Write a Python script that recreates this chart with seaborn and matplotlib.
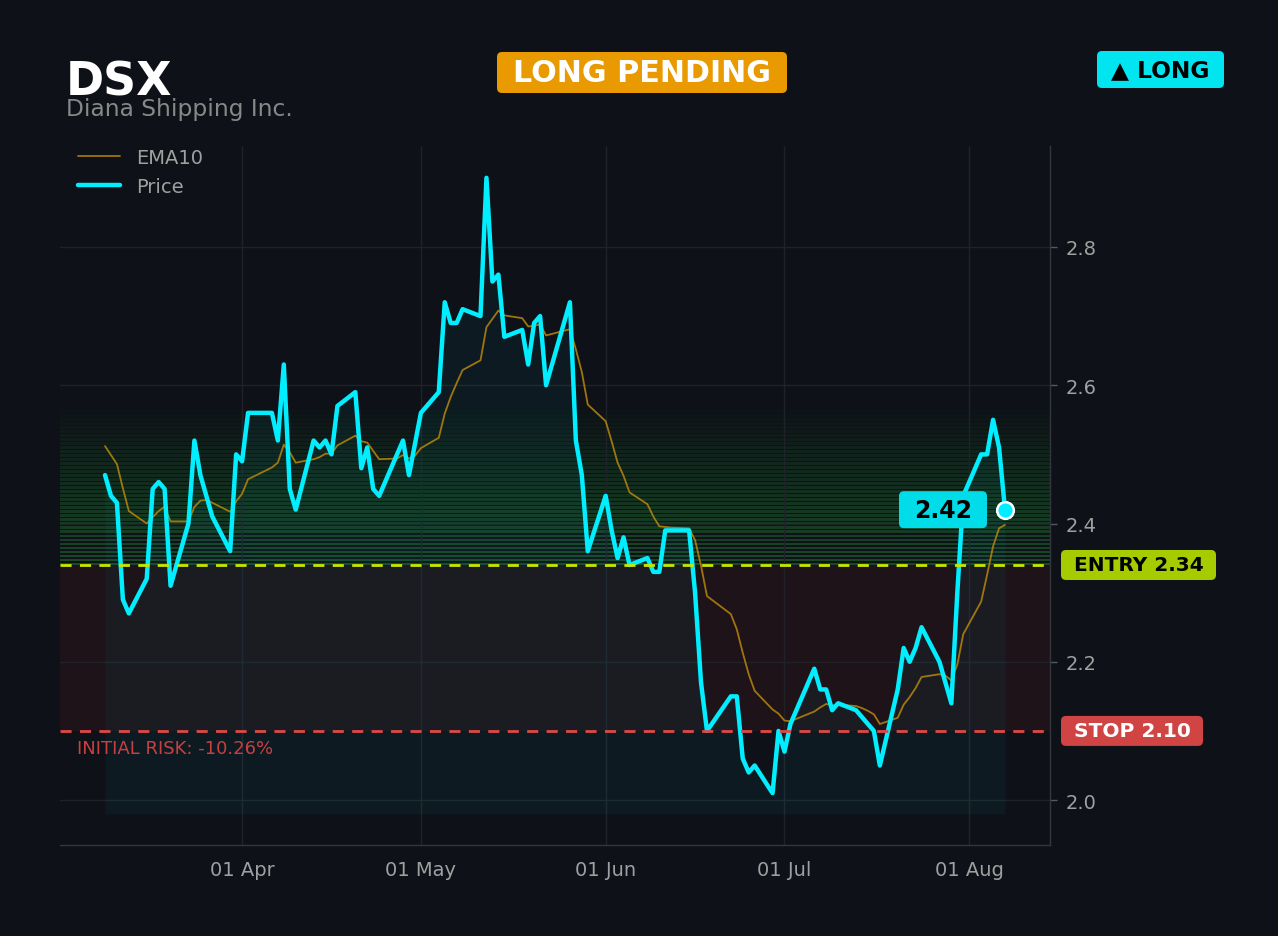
import pandas as pd
import numpy as np
import matplotlib
matplotlib.use('Agg')
import matplotlib.pyplot as plt
import matplotlib.dates as mdates
import matplotlib.transforms as mtransforms
from matplotlib.patches import FancyBboxPatch
import seaborn as sns

# trading days, Mar 9 - Aug 7 (market holidays removed)
holidays = ['2026-04-03', '2026-05-25', '2026-06-19', '2026-07-03']
dates = pd.bdate_range('2026-03-09', '2026-08-07')
dates = dates[~dates.isin(pd.to_datetime(holidays))]

price = [2.47, 2.44, 2.43, 2.29, 2.27,
         2.32, 2.45, 2.46, 2.45, 2.31,
         2.40, 2.52, 2.47, 2.44, 2.41,
         2.36, 2.50, 2.49, 2.56,
         2.56, 2.52, 2.63, 2.45, 2.42,
         2.52, 2.51, 2.52, 2.50, 2.57,
         2.59, 2.48, 2.51, 2.45, 2.44,
         2.50, 2.52, 2.47, 2.515, 2.56,
         2.59, 2.72, 2.69, 2.69, 2.71,
         2.70, 2.90, 2.75, 2.76, 2.67,
         2.68, 2.63, 2.69, 2.70, 2.60,
         2.72, 2.52, 2.47, 2.36,
         2.44, 2.39, 2.35, 2.38, 2.34,
         2.35, 2.33, 2.33, 2.39, 2.39,
         2.39, 2.30, 2.17, 2.10,
         2.15, 2.15, 2.06, 2.04, 2.05,
         2.01, 2.10, 2.07, 2.11,
         2.19, 2.16, 2.16, 2.13, 2.14,
         2.13, 2.12, 2.11, 2.10, 2.05,
         2.16, 2.22, 2.20, 2.22, 2.25,
         2.20, 2.17, 2.14, 2.30, 2.44,
         2.50, 2.50, 2.55, 2.51, 2.42]

ema10 = [2.512, 2.499, 2.486, 2.451, 2.418,
         2.400, 2.409, 2.418, 2.424, 2.403,
         2.403, 2.424, 2.433, 2.434, 2.430,
         2.417, 2.432, 2.443, 2.464,
         2.481, 2.488, 2.514, 2.503, 2.488,
         2.493, 2.496, 2.501, 2.501, 2.513,
         2.527, 2.519, 2.517, 2.505, 2.493,
         2.494, 2.499, 2.494, 2.498, 2.509,
         2.524, 2.559, 2.583, 2.603, 2.622,
         2.636, 2.684, 2.696, 2.708, 2.701,
         2.697, 2.685, 2.686, 2.688, 2.672,
         2.681, 2.652, 2.619, 2.572,
         2.548, 2.519, 2.488, 2.469, 2.445,
         2.428, 2.410, 2.396, 2.395, 2.394,
         2.393, 2.376, 2.339, 2.295,
         2.269, 2.247, 2.213, 2.182, 2.158,
         2.131, 2.125, 2.115, 2.114,
         2.128, 2.134, 2.139, 2.137, 2.138,
         2.136, 2.133, 2.129, 2.124, 2.110,
         2.119, 2.138, 2.149, 2.162, 2.178,
         2.182, 2.180, 2.173, 2.196, 2.240,
         2.287, 2.326, 2.367, 2.393, 2.398]

entry = 2.34
stop = 2.10
last_price = 2.42

df = pd.DataFrame({'date': dates, 'price': price, 'ema10': ema10})

bg = '#0e1117'
cyan = '#00eeff'

sns.set_theme(style='dark')
plt.rcParams['font.family'] = ['DejaVu Sans']

W, H = 1278, 937
fig = plt.figure(figsize=(W / 100, H / 100), dpi=100, facecolor=bg)
ax = fig.add_axes([60/W, 91/H, 990/W, 699/H])
ax.set_facecolor(bg)

# zones
ax.axhspan(stop, entry, color='#d03535', alpha=0.08, lw=0, zorder=0)
n = 40
step = 0.0058
for i in range(n):
    y0 = entry + i * step
    ax.axhspan(y0, y0 + step * 0.6, color='#2fbf4a', alpha=0.32 * (1 - i / n), lw=0, zorder=0)

ax.fill_between(df['date'], df['price'], 1.98, color=cyan, alpha=0.045, lw=0, zorder=1)

sns.lineplot(data=df, x='date', y='ema10', ax=ax, color='#b8860b', lw=1.3, alpha=0.85, label='EMA10', zorder=3)
sns.lineplot(data=df, x='date', y='price', ax=ax, color=cyan, lw=3.2, label='Price', zorder=4)

ax.axhline(entry, color='#c8e600', ls=(0, (4, 3)), lw=2, zorder=5)
ax.axhline(stop, color='#e04848', ls=(0, (4, 3)), lw=2, zorder=5)

ax.plot(df['date'].iloc[-1], last_price, 'o', ms=12, mfc=cyan, mec='white', mew=1.8, zorder=6)

# axes styling
ax.set_ylim(1.935, 2.946)
ax.margins(x=0.05)
ax.set_yticks([2.0, 2.2, 2.4, 2.6, 2.8])
ax.set_yticklabels(['2.0', '2.2', '2.4', '2.6', '2.8'])
ax.yaxis.tick_right()
ax.xaxis.set_major_locator(mdates.MonthLocator())
ax.xaxis.set_major_formatter(mdates.DateFormatter('%d %b'))
ax.tick_params(colors='#555a60', labelcolor='#a0a0a0', labelsize=14, length=5, width=1, pad=6)
ax.set_xlabel('')
ax.set_ylabel('')
ax.grid(True, color='#1f2329', lw=1)
for s in ['left', 'top']:
    ax.spines[s].set_visible(False)
for s in ['right', 'bottom']:
    ax.spines[s].set_visible(True)
    ax.spines[s].set_color('#33373d')
    ax.spines[s].set_linewidth(1)

leg = ax.legend(loc='upper left', bbox_to_anchor=(0.0, 1.022), frameon=False, fontsize=14,
                handlelength=2.2)
for t in leg.get_texts():
    t.set_color('#a0a0a0')

risk = (stop - entry) / entry * 100
trans = mtransforms.blended_transform_factory(ax.transAxes, ax.transData)
ax.text(0.017, 2.075, f'INITIAL RISK: {risk:.2f}%', transform=trans, ha='left', va='center',
        fontsize=13, color='#c84040')


def badge(cx, cy, w, h, text, fc, tc, fs):
    # cx, cy in display pixels (origin bottom-left)
    box = FancyBboxPatch((cx - w / 2, cy - h / 2), w, h,
                         boxstyle='round,pad=0,rounding_size=5', fc=fc, ec='none',
                         transform=mtransforms.IdentityTransform(), zorder=10)
    fig.add_artist(box)
    fig.text(cx, cy, text, transform=mtransforms.IdentityTransform(), ha='center', va='center',
             fontsize=fs, fontweight='bold', color=tc, zorder=11)


# data-anchored labels
last_x, last_y = ax.transData.transform((mdates.date2num(df['date'].iloc[-1]), last_price))
badge(last_x - 62, last_y, 88, 37, f'{last_price:.2f}', '#00dde8', 'black', 17)
right_x = ax.transAxes.transform((1.0, 0))[0]
entry_y = ax.transData.transform((0, entry))[1]
stop_y = ax.transData.transform((0, stop))[1]
badge(right_x + 88.5, entry_y, 155, 30, f'ENTRY {entry:.2f}', '#a6cc00', 'black', 14.5)
badge(right_x + 82, stop_y, 142, 30, f'STOP {stop:.2f}', '#d04444', 'white', 14.5)

# header
fig.text(66/W, 1 - 96/H, 'DSX', fontsize=33, fontweight='bold', color='white', va='baseline')
fig.text(66/W, 1 - 116/H, 'Diana Shipping Inc.', fontsize=16.8, color='#888888', va='baseline')
badge(642, H - 73.5, 290, 41, 'LONG PENDING', '#e89a00', 'white', 21.7)
badge(1160.5, H - 70.5, 127, 37, '\u25b2 LONG', '#00e5f0', 'black', 16.8)

fig.savefig('out.png', dpi=100, facecolor=bg)
